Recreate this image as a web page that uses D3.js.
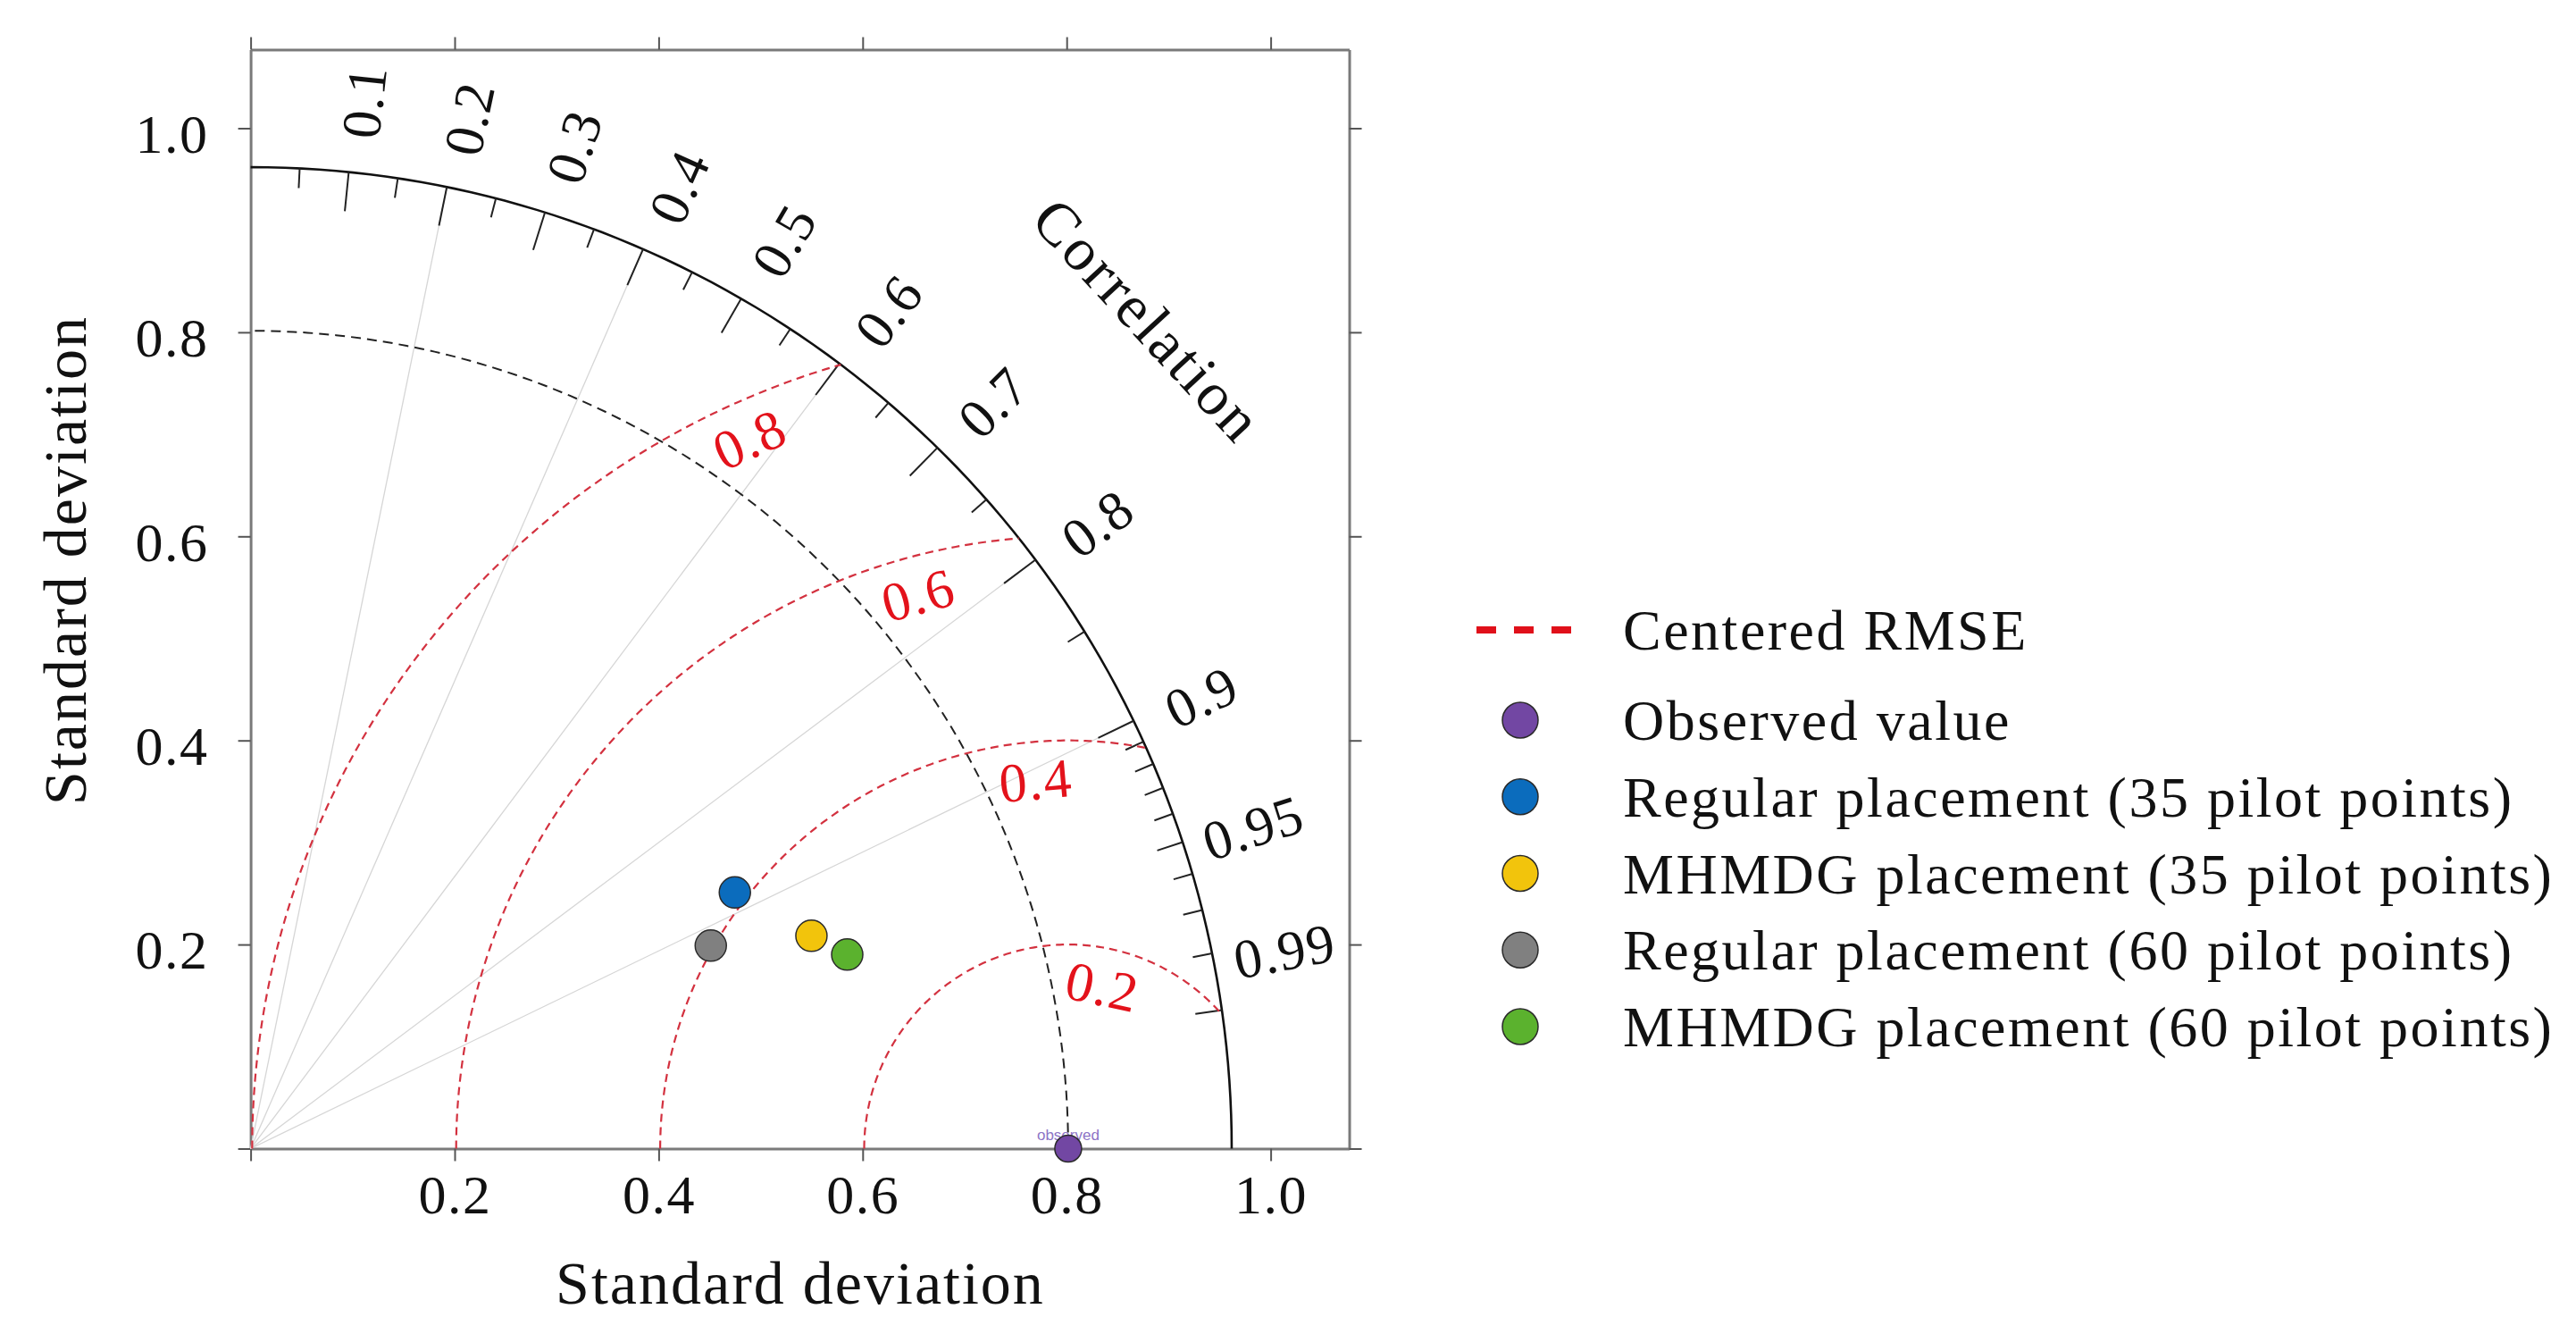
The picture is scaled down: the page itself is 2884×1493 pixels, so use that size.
<!DOCTYPE html>
<html>
<head>
<meta charset="utf-8">
<script src="https://cdn.jsdelivr.net/npm/d3@7"></script>
<style>
body { margin: 0; background: #fff; }
text { font-family: "Liberation Serif", "Times New Roman", serif; fill: #111; }
</style>
</head>
<body>
<svg id="chart" width="2884" height="1493"></svg>
<script>
// Chart data
var OBS_STD = 0.8015;
var STD_MAX = 1.077;
var stdTicks = [0, 0.2, 0.4, 0.6, 0.8, 1.0];
var corrLabels = [0.1, 0.2, 0.3, 0.4, 0.5, 0.6, 0.7, 0.8, 0.9, 0.95, 0.99];
var corrMinor = [0.05, 0.15, 0.25, 0.35, 0.45, 0.55, 0.65, 0.75, 0.85, 0.91, 0.92, 0.93, 0.94, 0.96, 0.97, 0.98];
var corrGrid = [0.2, 0.4, 0.6, 0.8, 0.9];
var rmseLevels = [0.2, 0.4, 0.6, 0.8];

var seriesNames = ['Observed value', 'Regular placement (35 pilot points)', 'MHMDG placement (35 pilot points)',
    'Regular placement (60 pilot points)', 'MHMDG placement (60 pilot points)'];
var seriesStd = [0.8015, 0.537, 0.588, 0.493, 0.615];
var seriesCorr = [1.0, 0.884, 0.935, 0.915, 0.951];
var seriesColors = ['#7247a3', '#0b6cbd', '#f2c40c', '#808080', '#5bb22e'];
// order points are drawn in (legend order differs from plot order)
var plotOrder = [1, 3, 2, 4, 0];


var svg = d3.select('#chart');
svg.append('rect').attr('width', 2884).attr('height', 1493).attr('fill', '#fff');

var PX = 1142;
var x = d3.scaleLinear().domain([0, STD_MAX]).range([280.6, 280.6 + PX * STD_MAX]);
var y = d3.scaleLinear().domain([0, STD_MAX]).range([1285.5, 1285.5 - PX * STD_MAX]);
var rOuter = 1.2 * OBS_STD;

// polar (std, angle) -> screen
var polar = function(r, theta) {
    return [x(r * Math.cos(theta)), y(r * Math.sin(theta))];
};
var line = d3.line();

/*
 * Frame axes
 */
var fmt = function(d) { return d === 0 ? '' : d3.format('.1f')(d); };
var styleAxis = function(g) {
    g.select('.domain').attr('stroke', '#7a7a7a').attr('stroke-width', 3);
    g.selectAll('.tick line').attr('stroke', '#555').attr('stroke-width', 2);
    g.selectAll('.tick text').attr('font-family', 'Liberation Serif').attr('font-size', 62)
        .attr('fill', '#111').attr('letter-spacing', 1.5);
};

svg.append('g').attr('transform', 'translate(0,' + y(0) + ')')
    .call(d3.axisBottom(x).tickValues(stdTicks).tickSize(14).tickSizeOuter(0).tickPadding(14).tickFormat(fmt))
    .call(styleAxis)
    .call(function(g) { g.selectAll('.tick text').attr('dy', '0.71em').attr('y', 28); });

svg.append('g').attr('transform', 'translate(' + x(0) + ',0)')
    .call(d3.axisLeft(y).tickValues(stdTicks).tickSize(14).tickSizeOuter(0).tickPadding(33).tickFormat(fmt))
    .call(styleAxis)
    .call(function(g) { g.selectAll('.tick text').attr('dy', '0.32em').attr('y', 7); });

svg.append('g').attr('transform', 'translate(0,' + y(STD_MAX) + ')')
    .call(d3.axisTop(x).tickValues(stdTicks).tickSize(14).tickSizeOuter(0).tickFormat(''))
    .call(styleAxis);

svg.append('g').attr('transform', 'translate(' + x(STD_MAX) + ',0)')
    .call(d3.axisRight(y).tickValues(stdTicks).tickSize(14).tickSizeOuter(0).tickFormat(''))
    .call(styleAxis);

/*
 * Correlation grid
 */
var gridG = svg.append('g');
gridG.selectAll('.radial').data(corrGrid).enter().append('path')
    .attr('d', function(c) { var t = Math.acos(c); return line([polar(0, t), polar(rOuter, t)]); })
    .attr('stroke', '#d6d6d6').attr('stroke-width', 1.3).attr('fill', 'none');

// outer arc
var quarter = d3.range(0, 91).map(function(a) { return a * Math.PI / 180; });
gridG.append('path')
    .attr('d', line(quarter.map(function(t) { return polar(rOuter, t); })))
    .attr('stroke', '#111').attr('stroke-width', 2.6).attr('fill', 'none');

// ticks
gridG.selectAll('.major').data(corrLabels).enter().append('path')
    .attr('d', function(c) {
        var t = Math.acos(c), len = c > 0.9 ? 30 : 44;
        return line([polar(rOuter, t), polar(rOuter - len / PX, t)]);
    })
    .attr('stroke', '#222').attr('stroke-width', 2);
gridG.selectAll('.minor').data(corrMinor).enter().append('path')
    .attr('d', function(c) { var t = Math.acos(c); return line([polar(rOuter, t), polar(rOuter - 22 / PX, t)]); })
    .attr('stroke', '#222').attr('stroke-width', 2);

// tick labels
gridG.selectAll('.clab').data(corrLabels).enter().append('text')
    .attr('transform', function(c) {
        var t = Math.acos(c) - 0.008;
        if (c === 0.99) t += 0.055;
        var p = polar(1.032, t);
        return 'translate(' + p[0] + ',' + p[1] + ') rotate(' + (-t * 180 / Math.PI) + ')';
    })
    .attr('text-anchor', 'middle').attr('dominant-baseline', 'central')
    .attr('font-size', 62).attr('letter-spacing', 1.5)
    .text(function(c) { return String(c); });

// reference std arc
gridG.append('path')
    .attr('d', line(quarter.map(function(t) { return polar(OBS_STD, t); })))
    .attr('stroke', '#222').attr('stroke-width', 2).attr('stroke-dasharray', '11 7').attr('fill', 'none');

/*
 * Centered RMSE arcs
 */
var rmseG = svg.append('g');
rmseLevels.forEach(function(r) {
    var px = (rOuter * rOuter - r * r + OBS_STD * OBS_STD) / (2 * OBS_STD);
    var py = Math.sqrt(rOuter * rOuter - px * px);
    var phiEnd = Math.atan2(py, px - OBS_STD);
    var pts = d3.range(0, 201).map(function(i) {
        var phi = Math.PI - (Math.PI - phiEnd) * i / 200;
        return [x(OBS_STD + r * Math.cos(phi)), y(r * Math.sin(phi))];
    });
    rmseG.append('path').attr('d', line(pts))
        .attr('stroke', '#d3313f').attr('stroke-width', 2.2).attr('stroke-dasharray', '9 6').attr('fill', 'none');

    // label just outside the reference arc
    var R = 0.85, d = r - 0.038;
    var lx = (R * R - d * d + OBS_STD * OBS_STD) / (2 * OBS_STD);
    var ly = Math.sqrt(R * R - lx * lx);
    var phi = Math.atan2(ly, lx - OBS_STD) * 180 / Math.PI;
    rmseG.append('text')
        .attr('transform', 'translate(' + x(lx) + ',' + y(ly) + ') rotate(' + (phi - 90) * -1 + ')')
        .attr('text-anchor', 'middle').attr('dominant-baseline', 'central')
        .attr('font-size', 62).attr('letter-spacing', 1.5)
        .style('fill', '#e3121b')
        .text(d3.format('.1f')(r));
});

/*
 * Points
 */
var obsPt = polar(seriesStd[0], Math.acos(seriesCorr[0]));
svg.append('text').attr('x', obsPt[0]).attr('y', obsPt[1] - 10)
    .attr('text-anchor', 'middle').attr('font-size', 17)
    .style('font-family', '"Liberation Sans", Arial, sans-serif').style('fill', '#8d74c6')
    .text('observed');

svg.append('g').selectAll('circle').data(plotOrder).enter().append('circle')
    .attr('cx', function(i) { return polar(seriesStd[i], Math.acos(seriesCorr[i]))[0]; })
    .attr('cy', function(i) { return polar(seriesStd[i], Math.acos(seriesCorr[i]))[1]; })
    .attr('r', function(i) { return i === 0 ? 15 : 17.5; })
    .attr('fill', function(i) { return seriesColors[i]; })
    .attr('stroke', '#2a2a2a').attr('stroke-width', 1.5);

/*
 * Axis titles
 */
svg.append('text').attr('x', 896).attr('y', 1459).attr('text-anchor', 'middle')
    .attr('font-size', 68).attr('letter-spacing', 2).text('Standard deviation');
svg.append('text').attr('transform', 'translate(96,627) rotate(-90)').attr('text-anchor', 'middle')
    .attr('font-size', 68).attr('letter-spacing', 2).text('Standard deviation');
var cPos = polar(1.197, 42.7 * Math.PI / 180);
svg.append('text').attr('transform', 'translate(' + cPos[0] + ',' + cPos[1] + ') rotate(47.3)')
    .attr('text-anchor', 'middle').attr('dominant-baseline', 'central')
    .attr('font-size', 68).attr('letter-spacing', 3).text('Correlation');

/*
 * Legend
 */
var legend = svg.append('g').attr('transform', 'translate(1653,0)');
legend.append('line').attr('x1', 0).attr('x2', 107).attr('y1', 705).attr('y2', 705)
    .attr('stroke', '#e0101a').attr('stroke-width', 8).attr('stroke-dasharray', '22 20');
legend.append('text').attr('x', 164).attr('y', 727).attr('font-size', 64).attr('letter-spacing', 2.5)
    .text('Centered RMSE');

var items = legend.selectAll('.item').data(seriesNames).enter().append('g')
    .attr('transform', function(d, i) { return 'translate(0,' + (806 + i * 85.75) + ')'; });
items.append('circle').attr('cx', 49).attr('cy', 0).attr('r', 20)
    .attr('fill', function(d, i) { return seriesColors[i]; })
    .attr('stroke', '#2a2a2a').attr('stroke-width', 1.5);
items.append('text').attr('x', 164).attr('y', 22).attr('font-size', 64).attr('letter-spacing', 2.5)
    .text(function(d) { return d; });
</script>
</body>
</html>
